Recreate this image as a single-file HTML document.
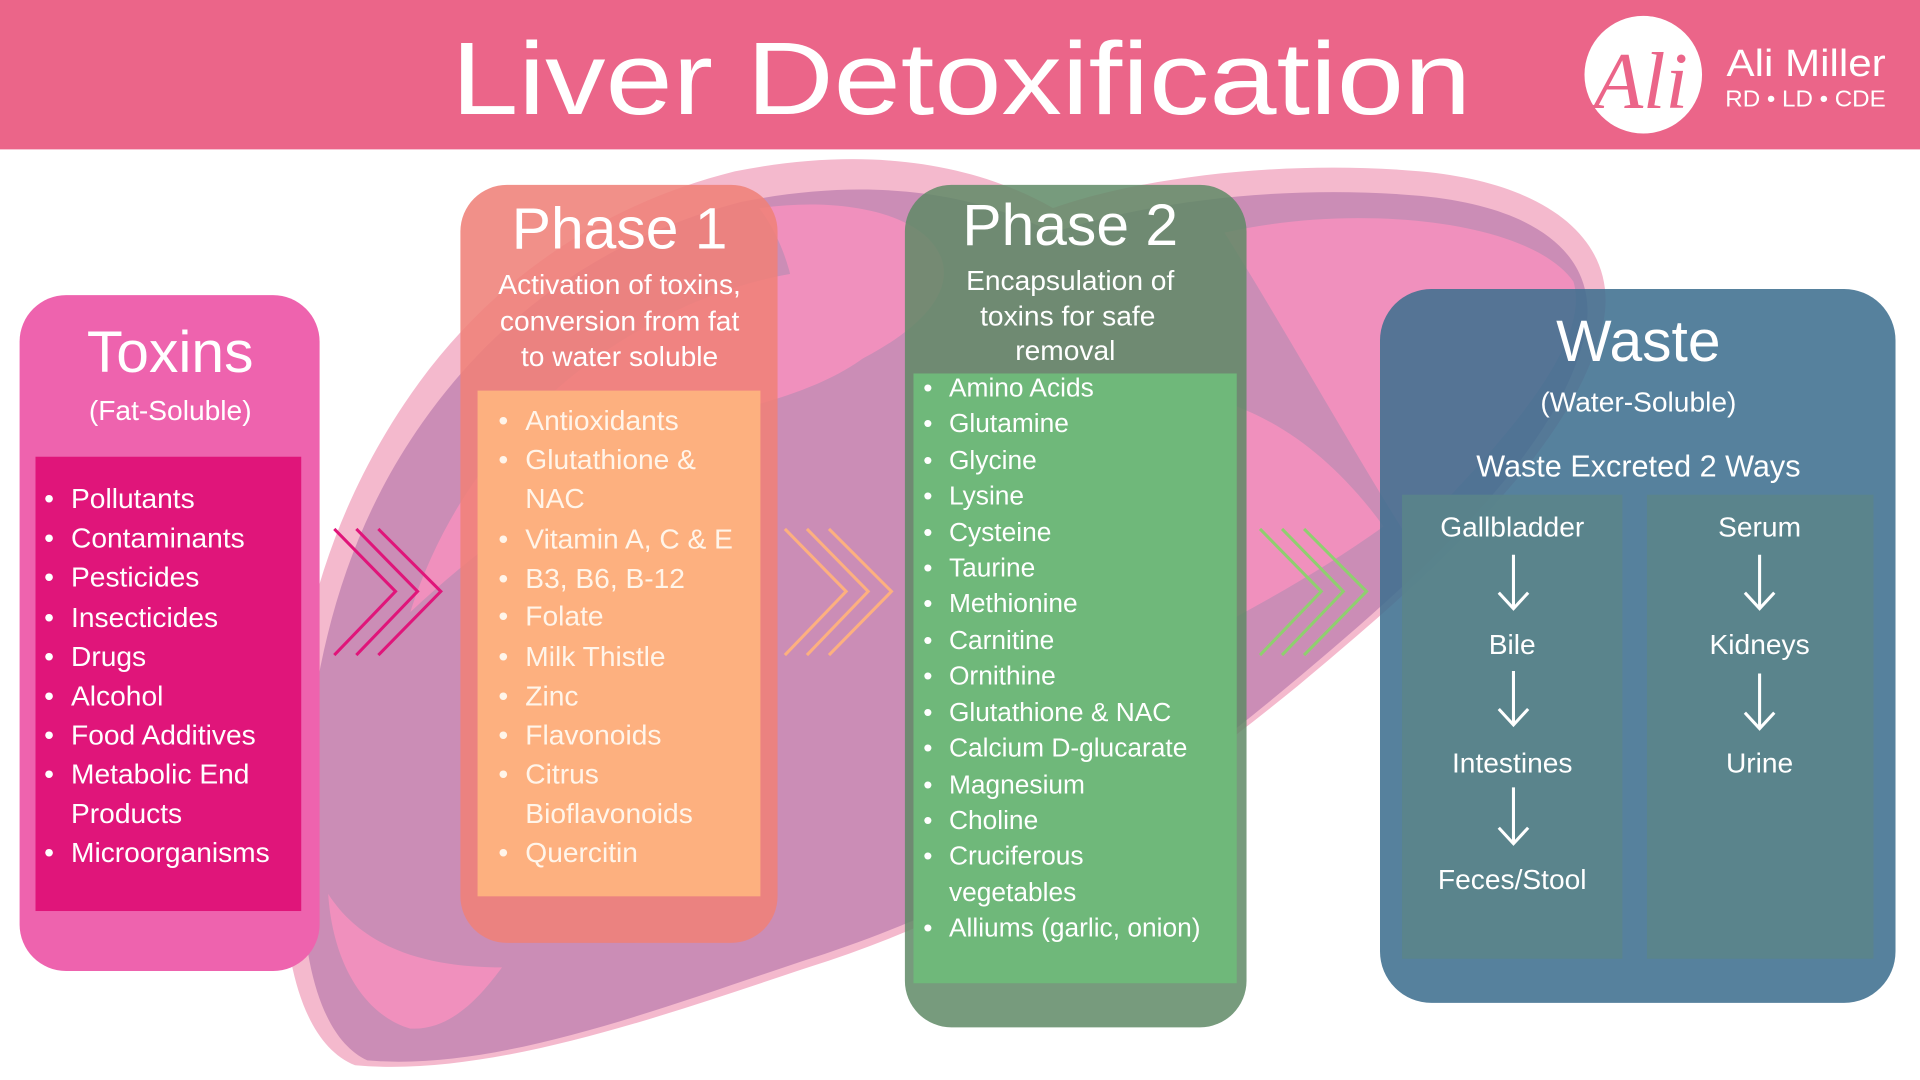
<!DOCTYPE html>
<html><head><meta charset="utf-8"><style>
html,body{margin:0;padding:0;width:1920px;height:1080px;overflow:hidden;background:#fff}
svg{display:block}
text{font-family:"Liberation Sans",sans-serif;fill:#fff}
</style></head><body>
<svg width="1920" height="1080" viewBox="0 0 1568 882" preserveAspectRatio="none" xmlns="http://www.w3.org/2000/svg">
<rect x="0" y="0" width="1568" height="882" fill="#fff"/>
<!-- liver blob -->
<path d="M290 870 C240 850 225 760 232 650 C240 520 270 420 330 330 C390 240 480 170 600 140 C700 120 790 130 860 170 C930 145 1050 130 1160 140 C1270 150 1320 200 1310 260 C1290 360 1180 460 1060 560 C950 650 820 740 660 790 C540 830 400 880 290 870 Z" fill="#f4b9cd"/>
<path d="M300 866 C255 845 240 760 248 650 C256 530 285 430 345 345 C405 260 490 195 605 165 C705 145 790 155 860 190 C935 165 1050 150 1160 160 C1265 170 1305 215 1295 270 C1275 365 1170 462 1050 562 C945 650 815 735 655 785 C535 825 405 875 300 866 Z" fill="#cb8db6"/>
<path d="M335 500 C370 390 450 300 560 250 C640 215 720 210 730 240 C740 280 690 310 620 330 C520 360 420 420 335 500 Z" fill="#f090bd"/>
<path d="M620 170 C690 160 760 175 770 215 C780 260 700 300 640 320 C660 270 650 210 620 170 Z" fill="#f090bd"/>
<path d="M1000 190 C1110 165 1250 180 1285 230 C1300 280 1230 360 1150 440 C1100 360 1050 270 1000 190 Z" fill="#f090bd"/>
<path d="M850 330 C950 300 1050 320 1130 430 C1060 480 980 520 900 560 Z" fill="#f090bd"/>
<path d="M268 730 C272 790 300 830 335 840 C370 842 395 810 410 790 C360 790 300 780 268 730 Z" fill="#f090bd"/>
<!-- header -->
<rect x="0" y="0" width="1568" height="122" fill="#eb6589"/>
<text x="785" y="93" font-size="84" text-anchor="middle" textLength="833" lengthAdjust="spacingAndGlyphs">Liver Detoxification</text>
<circle cx="1342" cy="61" r="48" fill="#fff"/>
<text x="1340" y="88" font-size="66" text-anchor="middle" font-style="italic" style="fill:#eb6589;font-family:'Liberation Serif',serif">Ali</text>
<text x="1410" y="62" font-size="31" textLength="130" lengthAdjust="spacingAndGlyphs">Ali Miller</text>
<text x="1409" y="87" font-size="19" textLength="131" lengthAdjust="spacingAndGlyphs">RD • LD • CDE</text>
<!-- Toxins -->
<rect x="16" y="241" width="245" height="552" rx="38" fill="#ee63ae"/>
<rect x="29" y="373" width="217" height="371" fill="#e0157a"/>
<text x="139" y="304" font-size="48" text-anchor="middle">Toxins</text>
<text x="139" y="343" font-size="23" text-anchor="middle">(Fat-Soluble)</text>
<g font-size="23">
<text x="36" y="415">•<tspan x="58">Pollutants</tspan></text>
<text x="36" y="447">•<tspan x="58">Contaminants</tspan></text>
<text x="36" y="479">•<tspan x="58">Pesticides</tspan></text>
<text x="36" y="512">•<tspan x="58">Insecticides</tspan></text>
<text x="36" y="544">•<tspan x="58">Drugs</tspan></text>
<text x="36" y="576">•<tspan x="58">Alcohol</tspan></text>
<text x="36" y="608">•<tspan x="58">Food Additives</tspan></text>
<text x="36" y="640">•<tspan x="58">Metabolic End</tspan></text>
<text x="58" y="672">Products</text>
<text x="36" y="704">•<tspan x="58">Microorganisms</tspan></text>
</g>
<!-- chevrons -->
<g fill="none" stroke-width="2.5">
<g stroke="#e0157a"><path d="M273 432 L323 483 L273 535"/><path d="M291 432 L341 483 L291 535"/><path d="M309 432 L360 483 L309 535"/></g>
<g stroke="#fdb07f"><path d="M641 432 L691 483 L641 535"/><path d="M659 432 L709 483 L659 535"/><path d="M677 432 L728 483 L677 535"/></g>
<g stroke="#8fcf6f"><path d="M1029 432 L1079 483 L1029 535"/><path d="M1047 432 L1097 483 L1047 535"/><path d="M1065 432 L1116 483 L1065 535"/></g>
</g>
<!-- Phase 1 -->
<rect x="376" y="151" width="259" height="619" rx="38" fill="#ef8179" opacity="0.88"/>
<rect x="390" y="319" width="231" height="413" fill="#fdb07f"/>
<text x="506" y="203" font-size="48" text-anchor="middle">Phase 1</text>
<g font-size="23" text-anchor="middle">
<text x="506" y="240">Activation of toxins,</text>
<text x="506" y="270">conversion from fat</text>
<text x="506" y="299">to water soluble</text>
</g>
<g font-size="23">
<text x="407" y="351" style="fill:#fff5ea">•<tspan x="429">Antioxidants</tspan></text>
<text x="407" y="383" style="fill:#fff5ea">•<tspan x="429">Glutathione &amp;</tspan></text>
<text x="429" y="415" style="fill:#fff5ea">NAC</text>
<text x="407" y="448" style="fill:#fff5ea">•<tspan x="429">Vitamin A, C &amp; E</tspan></text>
<text x="407" y="480" style="fill:#fff5ea">•<tspan x="429">B3, B6, B-12</tspan></text>
<text x="407" y="511" style="fill:#fff5ea">•<tspan x="429">Folate</tspan></text>
<text x="407" y="544" style="fill:#fff5ea">•<tspan x="429">Milk Thistle</tspan></text>
<text x="407" y="576" style="fill:#fff5ea">•<tspan x="429">Zinc</tspan></text>
<text x="407" y="608" style="fill:#fff5ea">•<tspan x="429">Flavonoids</tspan></text>
<text x="407" y="640" style="fill:#fff5ea">•<tspan x="429">Citrus</tspan></text>
<text x="429" y="672" style="fill:#fff5ea">Bioflavonoids</text>
<text x="407" y="704" style="fill:#fff5ea">•<tspan x="429">Quercitin</tspan></text>
</g>
<!-- Phase 2 -->
<rect x="739" y="151" width="279" height="688" rx="38" fill="#5f8a66" opacity="0.85"/>
<rect x="746" y="305" width="264" height="498" fill="#6fb87a"/>
<text x="874" y="200" font-size="48" text-anchor="middle">Phase 2</text>
<g font-size="23" text-anchor="middle">
<text x="874" y="237">Encapsulation of</text>
<text x="872" y="266">toxins for safe</text>
<text x="870" y="294">removal</text>
</g>
<g font-size="21.5">
<text x="754" y="324">•<tspan x="775">Amino Acids</tspan></text>
<text x="754" y="353">•<tspan x="775">Glutamine</tspan></text>
<text x="754" y="383">•<tspan x="775">Glycine</tspan></text>
<text x="754" y="412">•<tspan x="775">Lysine</tspan></text>
<text x="754" y="442">•<tspan x="775">Cysteine</tspan></text>
<text x="754" y="471">•<tspan x="775">Taurine</tspan></text>
<text x="754" y="500">•<tspan x="775">Methionine</tspan></text>
<text x="754" y="530">•<tspan x="775">Carnitine</tspan></text>
<text x="754" y="559">•<tspan x="775">Ornithine</tspan></text>
<text x="754" y="589">•<tspan x="775">Glutathione &amp; NAC</tspan></text>
<text x="754" y="618">•<tspan x="775">Calcium D-glucarate</tspan></text>
<text x="754" y="648">•<tspan x="775">Magnesium</tspan></text>
<text x="754" y="677">•<tspan x="775">Choline</tspan></text>
<text x="754" y="706">•<tspan x="775">Cruciferous</tspan></text>
<text x="775" y="736">vegetables</text>
<text x="754" y="765">•<tspan x="775">Alliums (garlic, onion)</tspan></text>
</g>
<!-- Waste -->
<rect x="1127" y="236" width="421" height="583" rx="42" fill="#3f6f8f" opacity="0.88"/>
<rect x="1145" y="404" width="180" height="379" fill="#5a8589" opacity="0.85"/>
<rect x="1345" y="404" width="185" height="379" fill="#5a8589" opacity="0.85"/>
<text x="1338" y="295" font-size="48" text-anchor="middle">Waste</text>
<text x="1338" y="336" font-size="23" text-anchor="middle">(Water-Soluble)</text>
<text x="1338" y="389" font-size="25" text-anchor="middle">Waste Excreted 2 Ways</text>
<g font-size="23" text-anchor="middle">
<text x="1235" y="438">Gallbladder</text>
<text x="1235" y="534">Bile</text>
<text x="1235" y="631">Intestines</text>
<text x="1235" y="726">Feces/Stool</text>
<text x="1437" y="438">Serum</text>
<text x="1437" y="534">Kidneys</text>
<text x="1437" y="631">Urine</text>
</g>
<g stroke="#fff" stroke-width="2.5" fill="none">
<path d="M1236 453 V497 M1224 484 L1236 497 L1248 484"/>
<path d="M1236 548 V592 M1224 579 L1236 592 L1248 579"/>
<path d="M1236 643 V689 M1224 676 L1236 689 L1248 676"/>
<path d="M1437 453 V497 M1425 484 L1437 497 L1449 484"/>
<path d="M1437 550 V595 M1425 582 L1437 595 L1449 582"/>
</g>
</svg>
</body></html>
